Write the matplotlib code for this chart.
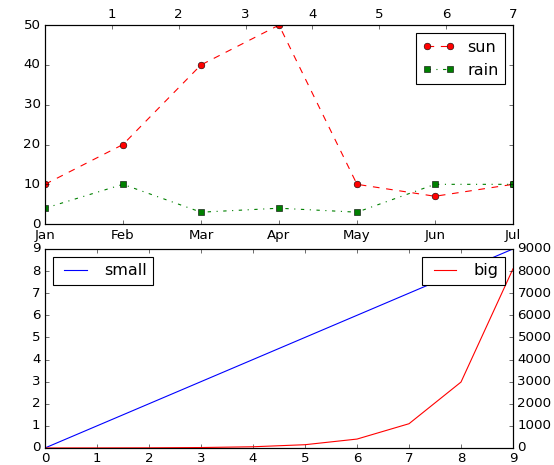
import matplotlib
matplotlib.use('Agg')
import matplotlib.pyplot as plt

plt.style.use('classic')
plt.rcParams['figure.facecolor'] = 'white'
plt.rcParams['savefig.facecolor'] = 'white'

months = ['Jan', 'Feb', 'Mar', 'Apr', 'May', 'Jun', 'Jul']
sun = [10, 20, 40, 50, 10, 7, 10]
rain = [4, 10, 3, 4, 3, 10, 10]
top_ticks = [1, 2, 3, 4, 5, 6, 7]

xs = [0, 1, 2, 3, 4, 5, 6, 7, 8, 9]
small = [0, 1, 2, 3, 4, 5, 6, 7, 8, 9]
big = [1, 3, 7, 20, 55, 148, 403, 1097, 2981, 8103]

fig = plt.figure(figsize=(554 / 80, 465 / 80), dpi=80)

# top panel: months with a secondary x axis on top
ax1 = fig.add_axes([0.0812, 0.518, 0.8448, 0.428])
ax1.plot(range(len(months)), sun, 'ro--', label='sun')
ax1.plot(range(len(months)), rain, 'gs-.', label='rain')
ax1.set_xticks(range(len(months)))
ax1.set_xticklabels(months)
ax1.set_xlim(0, len(months) - 1)
ax1.set_ylim(0, 50)
ax1.set_yticks([0, 10, 20, 30, 40, 50])
ax1.xaxis.set_ticks_position('bottom')
ax1.legend(loc='upper right')

ax1t = ax1.twiny()
ax1t.set_xlim(0, 7)
ax1t.set_xticks(top_ticks)

# bottom panel: two y scales
ax2 = fig.add_axes([0.0812, 0.0366, 0.8448, 0.428])
ax2.plot(xs, small, 'b-', label='small')
ax2.set_xlim(0, 9)
ax2.set_ylim(0, 9)
ax2.set_xticks(xs)
ax2.set_yticks(range(10))
ax2.legend(loc='upper left')

ax2r = ax2.twinx()
ax2r.plot(xs, big, 'r-', label='big')
ax2r.set_ylim(0, 9000)
ax2r.set_yticks(range(0, 9001, 1000))
ax2r.legend(loc='upper right')

fig.savefig('out.png', dpi=80)
